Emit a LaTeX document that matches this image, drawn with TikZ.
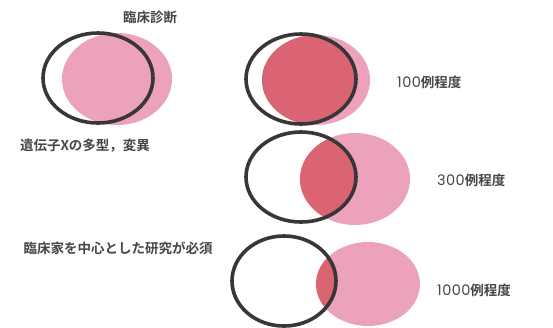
\documentclass[tikz,border=0pt]{standalone}
\usepackage{fontspec}
\newfontfamily\jp{Noto Sans CJK JP}[BoldFont={Noto Sans CJK JP Bold}]
\newfontfamily\digitfont{Poppins}[LetterSpace=3]
\newcommand{\widedigits}[1]{{\digitfont\mdseries\fontsize{14.5}{15}\selectfont#1}}
\definecolor{pinkA}{RGB}{236,162,186}
\definecolor{redB}{RGB}{219,100,114}
\definecolor{ringC}{RGB}{55,55,55}
\definecolor{txtD}{RGB}{70,70,70}
\begin{document}
\begin{tikzpicture}[x=1pt,y=-1pt,
  ring/.style={draw=ringC,line width=3.6pt},
  lbl/.style={font=\jp\bfseries\fontsize{13.5}{15}\selectfont,text=txtD,inner sep=0pt}]
\useasboundingbox (0,0) rectangle (553,327);
% top-left
\fill[pinkA] (117,79) ellipse [x radius=55, y radius=46];
\draw[ring] (98,78) ellipse [x radius=55, y radius=45];
% group 1
\fill[pinkA] (316,80) ellipse [x radius=54, y radius=45];
\begin{scope}
\clip (316,80) ellipse [x radius=54, y radius=45];
\fill[redB] (301,79) ellipse [x radius=55, y radius=45];
\end{scope}
\draw[ring] (301,79) ellipse [x radius=55, y radius=45];
% group 2
\fill[pinkA] (355,179) ellipse [x radius=55, y radius=46];
\begin{scope}
\clip (355,179) ellipse [x radius=55, y radius=46];
\fill[redB] (301,177) ellipse [x radius=55, y radius=45];
\end{scope}
\draw[ring] (301,177) ellipse [x radius=55, y radius=45];
% group 3
\fill[pinkA] (368,284) ellipse [x radius=52, y radius=42];
\begin{scope}
\clip (368,284) ellipse [x radius=52, y radius=42];
\fill[redB] (284,281) ellipse [x radius=52, y radius=45];
\end{scope}
\draw[ring] (284,281) ellipse [x radius=52, y radius=45];
% labels
\node[lbl] (t1) at (150,17) {臨床診断};
\node[lbl] (t2) at (85,146) {遺伝子Xの多型，変異};
\node[lbl] (t3) at (118,248) {臨床家を中心とした研究が必須};
\node[lbl,anchor=west] (n1) at (397,82) {\widedigits{100}例程度};
\node[lbl,anchor=west] (n2) at (437,180) {\widedigits{300}例程度};
\node[lbl,anchor=west] (n3) at (437,290) {\widedigits{1000}例程度};
\end{tikzpicture}
\end{document}
